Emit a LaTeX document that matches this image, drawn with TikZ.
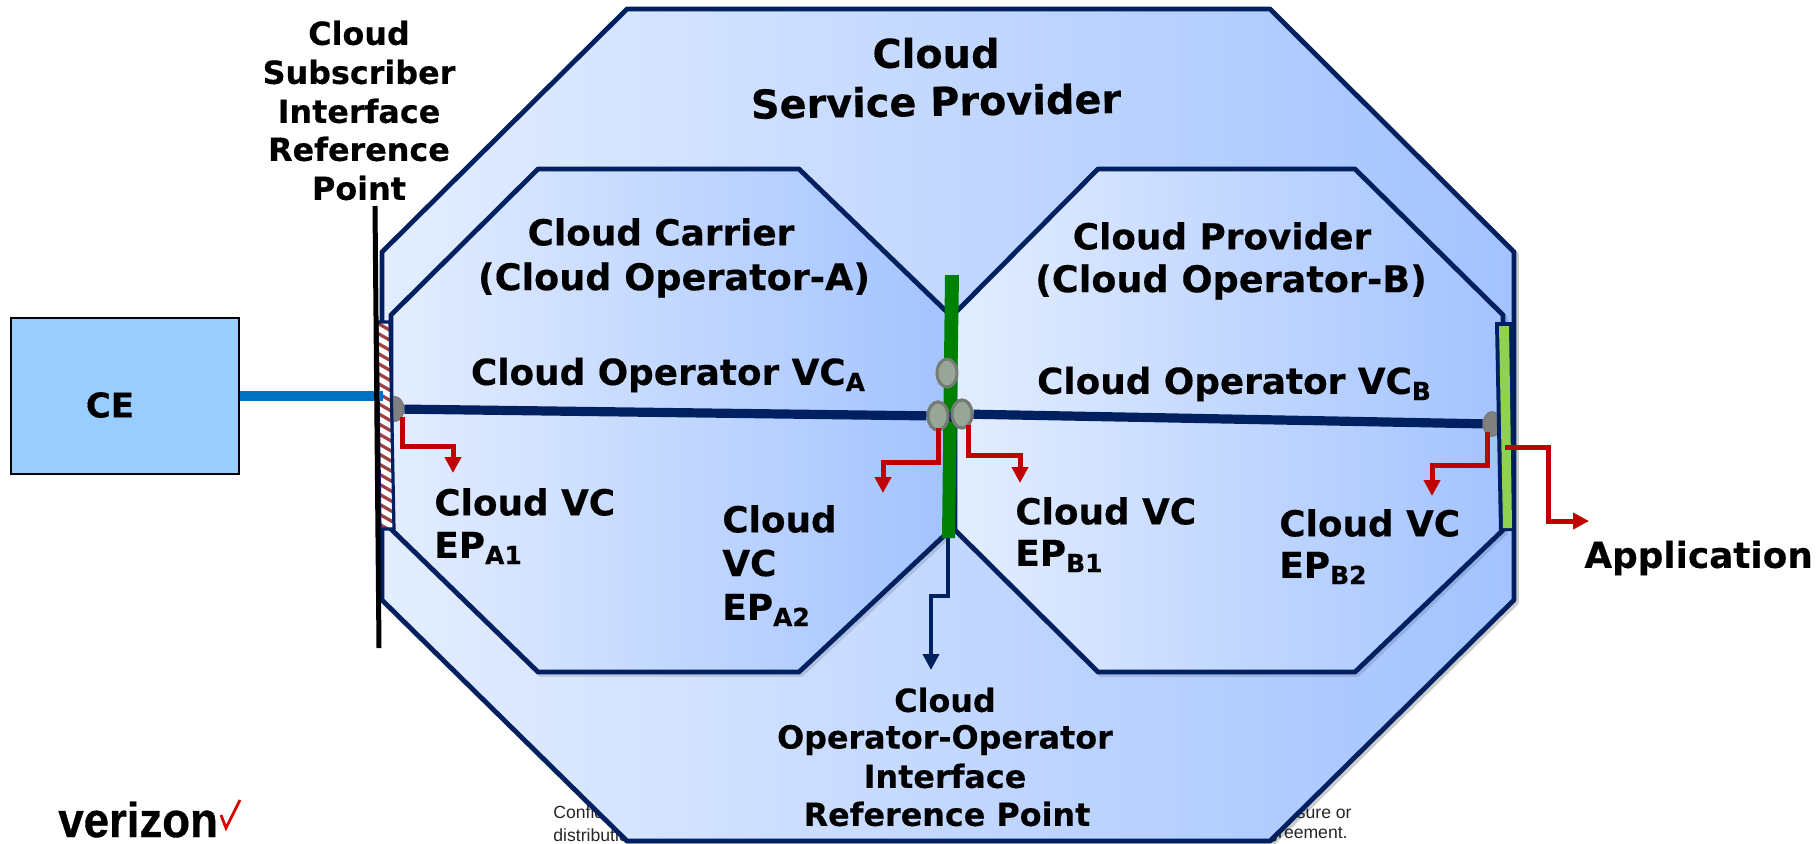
\documentclass[tikz,border=0pt]{standalone}
\usepackage{fontspec}
\setmainfont[BoldFeatures={FakeBold=0.35}]{DejaVu Sans}
\newfontfamily\footfont[BoldFeatures={FakeBold=0.8}]{Liberation Sans}
\usetikzlibrary{arrows.meta,shapes.geometric}
\definecolor{navy}{HTML}{002060}
\definecolor{gradL}{HTML}{E3EDFF}
\definecolor{gradR}{HTML}{A3C3FF}
\definecolor{redline}{HTML}{C00000}
\definecolor{hatchred}{HTML}{A04040}
\definecolor{dotfill}{HTML}{98A698}
\definecolor{dotedge}{HTML}{747C74}
\definecolor{ceblue}{HTML}{99CCFF}
\definecolor{linkblue}{HTML}{0070C0}
\definecolor{barlight}{HTML}{92D050}
\definecolor{bargreen}{HTML}{008000}
\newcommand{\lowtxt}[1]{\raisebox{-0.32ex}{\fontsize{12.5pt}{14pt}\selectfont #1}}
\tikzset{
  octa/.style={draw=navy,line width=2.4pt,line join=round,left color=gradL,right color=gradR},
  octashadow/.style={draw=black,opacity=.2,line width=2.5pt,line join=round,shift={(1.2pt,-1.2pt)}},
  lbl/.style={font=\fontsize{17.9pt}{19pt}\selectfont\bfseries,inner sep=0pt,text=black},
  lblw/.style={lbl,anchor=west},
  paren/.style={lbl,font=\fontsize{18.3pt}{19pt}\selectfont\bfseries},
  biglbl/.style={lbl,font=\fontsize{19.9pt}{21pt}\selectfont\bfseries},
  smalllbl/.style={font=\fontsize{15.9pt}{18pt}\selectfont\bfseries,inner sep=0pt,text=black},
  foot/.style={font=\fontsize{8.8pt}{10pt}\footfont,inner sep=0pt,text=black!85},
  redarrow/.style={draw=redline,line width=2.5pt,line join=miter,-{Triangle[length=8pt,width=8pt,fill=redline]}},
  bluearrow/.style={draw=navy,line width=1.9pt,-{Triangle[length=8pt,width=8pt,fill=navy]}},
  vcline/.style={draw=navy,line width=4.6pt},
  dotA/.style={ellipse,inner sep=0pt,minimum width=10pt,minimum height=14pt,fill=dotfill,draw=dotedge,line width=1.5pt},
  dotB/.style={ellipse,inner sep=0pt,minimum width=9pt,minimum height=12.5pt,fill=black!50,draw=black!55,line width=.4pt},
}
\begin{document}
\begin{tikzpicture}[x=0.5pt,y=-0.5pt]
\useasboundingbox (0,0) rectangle (1816,843);
% footer, behind the provider octagon
\node[foot,anchor=west] (f1) at (553,812) {Confidential};
\node[foot,anchor=west] (f2) at (553,835) {distribution};
\node[foot,anchor=east] (f3) at (1352,812) {disclosure or};
\node[foot,anchor=east] (f4) at (1348,835) {agreement.};
% logo
\node[font=\fontsize{24.5pt}{26pt}\selectfont\footfont\bfseries,inner sep=0pt,anchor=base west,xscale=.93] (logo) at (58,837) {verizon};
\draw[red!85!black,line width=1.4pt] (221,815)--(226,828)--(240,800);
% provider octagon
\path[octashadow] (627,9)--(1270,9)--(1514,252)--(1514,600)--(1270,841)--(627,841)--(382,600)--(382,252)--cycle;
\path[octa] (627,9)--(1270,9)--(1514,252)--(1514,600)--(1270,841)--(627,841)--(382,600)--(382,252)--cycle;
% operator octagons
\path[octashadow,opacity=.12] (538,169)--(799,169)--(948,313)--(948,532)--(799,672)--(538,672)--(391,529)--(391,315)--cycle;
\path[octa] (538,169)--(799,169)--(948,313)--(948,532)--(799,672)--(538,672)--(391,529)--(391,315)--cycle;
\path[octashadow,opacity=.12] (1098,169)--(1355,169)--(1503,315)--(1503,530)--(1355,672)--(1098,672)--(955,530)--(955,313)--cycle;
\path[octa] (1098,169)--(1355,169)--(1503,315)--(1503,530)--(1355,672)--(1098,672)--(955,530)--(955,313)--cycle;
% CE
\node[draw=black,line width=1.2pt,fill=ceblue,minimum width=114pt,minimum height=78pt,inner sep=0pt,anchor=north west] (ce) at (10,317) {};
\node[smalllbl,font=\fontsize{17pt}{18pt}\selectfont\bfseries] (celabel) at (110,405) {CE};
% gray end points (under the bars)
\node[dotB] (gA1) at (395,409) {};
\node[dotB] (gB2) at (1492,424) {};
% hatched interface
\begin{scope}
\clip (377,322)--(390,322)--(394,529)--(380,529)--cycle;
\fill[white] (370,315) rectangle (400,535);
\foreach \yy in {300,310,...,530}{
  \draw[hatchred,line width=1.6pt] (372,\yy)--(400,\yy+16);
}
\end{scope}
\draw[navy,line width=1.6pt] (377,322)--(390,322)--(394,529)--(380,529)--cycle;
% CE link
\coordinate (linkEnd) at (383,396);
\draw[linkblue,line width=5pt] (ce.east |- linkEnd)--(linkEnd);
% reference line
\coordinate (refTop) at (375,206);
\coordinate (refBot) at (379,648);
\draw[black,line width=2.5pt] (refTop)--(refBot);
% light green interface
\fill[navy] (1495,322)--(1515,322)--(1515,531)--(1499,531)--cycle;
\fill[barlight] (1499,326)--(1509,326)--(1512,528)--(1503,528)--cycle;
\draw[navy,line width=2.4pt] (1514,252)--(1514,600);
% VC lines
\node[dotA] (gA2) at (938,416) {};
\node[dotA] (gB1) at (962,414) {};
\draw[vcline] (gA1)--(gA2);
\draw[vcline] (gB1)--(gB2);
% green interface
\fill[bargreen] (945,275)--(959,275)--(955,538)--(942,538)--cycle;
\draw[vcline] (945,416.5)--(955,417);
\node[dotA] (gTop) at (947,373) {};
\node[dotA] (gA2t) at (938,416) {};
\node[dotA] (gB1t) at (962,414) {};
% red arrows
\coordinate (a1s) at (402,417); \coordinate (a1m) at (402,446); \coordinate (a1n) at (453,446); \coordinate (a1e) at (453,473);
\draw[redarrow] (a1s)--(a1m)--(a1n)--(a1e);
\coordinate (a2s) at (938,428); \coordinate (a2m) at (938,462); \coordinate (a2n) at (883,462); \coordinate (a2e) at (883,493);
\draw[redarrow] (a2s)--(a2m)--(a2n)--(a2e);
\coordinate (b1s) at (968,425); \coordinate (b1m) at (968,455); \coordinate (b1n) at (1020,455); \coordinate (b1e) at (1020,483);
\draw[redarrow] (b1s)--(b1m)--(b1n)--(b1e);
\coordinate (b2s) at (1487,432); \coordinate (b2m) at (1487,465); \coordinate (b2n) at (1432,465); \coordinate (b2e) at (1432,496);
\draw[redarrow] (b2s)--(b2m)--(b2n)--(b2e);
\coordinate (aps) at (1505,447.5); \coordinate (apm) at (1548,447.5); \coordinate (apn) at (1548,521); \coordinate (ape) at (1589,521);
\draw[redarrow] (aps)--(apm)--(apn)--(ape);
% operator-operator pointer
\coordinate (oos) at (948,538); \coordinate (oom) at (948,596); \coordinate (oon) at (931,596); \coordinate (ooe) at (931,670);
\draw[bluearrow] (oos)--(oom)--(oon)--(ooe);
% labels
\node[biglbl] (t1) at (936,53) {Cloud};
\node[biglbl,rotate=.9] (t2) at (936,101) {Service Provider};
\node[smalllbl] (s1) at (359,33) {Cloud};
\node[smalllbl] (s2) at (359,72) {Subscriber};
\node[smalllbl] (s3) at (359,111) {Interface};
\node[smalllbl] (s4) at (359,149) {Reference};
\node[smalllbl] (s5) at (359,188) {Point};
\node[lbl] (c1) at (661,232) {Cloud Carrier};
\node[paren] (c2) at (674,280) {(Cloud Operator-A)};
\node[lbl] (p1) at (1222,236) {Cloud Provider};
\node[paren] (p2) at (1231,282) {(Cloud Operator-B)};
\node[lbl] (va) at (668,375) {Cloud Operator VC\lowtxt{A}};
\node[lbl] (vb) at (1234,384) {Cloud Operator VC\lowtxt{B}};
\node[lblw] (e1) at (434,502) {Cloud VC};
\node[lblw] (e2) at (434,548) {EP\lowtxt{A1}};
\node[lblw] (e3) at (722,519) {Cloud};
\node[lblw] (e4) at (722,563) {VC};
\node[lblw] (e5) at (722,610) {EP\lowtxt{A2}};
\node[lblw] (e6) at (1015,511) {Cloud VC};
\node[lblw] (e7) at (1015,556) {EP\lowtxt{B1}};
\node[lblw] (e8) at (1279,523) {Cloud VC};
\node[lblw] (e9) at (1279,568) {EP\lowtxt{B2}};
\node[lblw] (ap) at (1584,558) {Application};
\node[smalllbl] (o1) at (945,700) {Cloud};
\node[smalllbl] (o2) at (945,740) {Operator-Operator};
\node[smalllbl] (o3) at (945,776) {Interface};
\node[smalllbl] (o4) at (947,814) {Reference Point};
\end{tikzpicture}
\end{document}
